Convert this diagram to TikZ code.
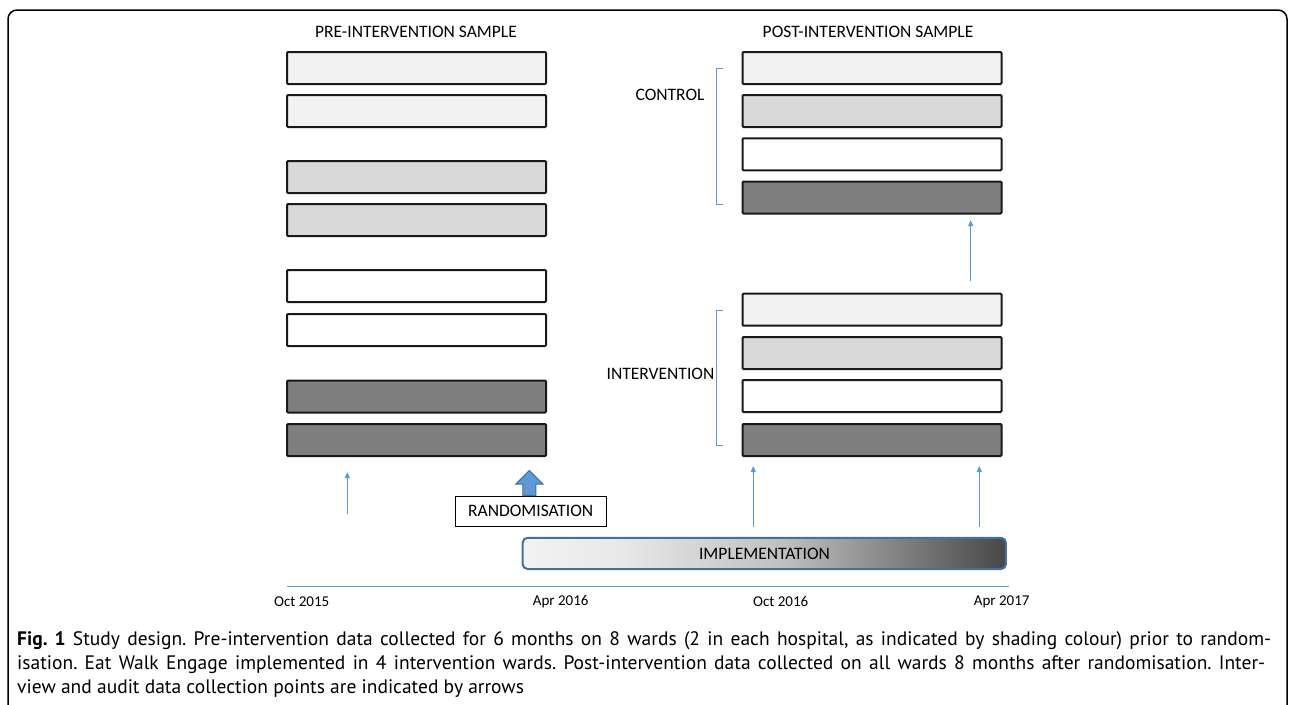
\documentclass[tikz,border=0pt]{standalone}
\usepackage{fontspec}
\setmainfont{Carlito}
\newfontfamily\capfont{PT Sans}
\usetikzlibrary{arrows.meta,shapes.arrows}
\definecolor{light}{HTML}{F2F2F2}
\definecolor{mid}{HTML}{D9D9D9}
\definecolor{dark}{HTML}{7F7F7F}
\definecolor{arrowblue}{HTML}{5B9BD5}
\definecolor{edgeblue}{HTML}{41719C}
\pgfdeclarehorizontalshading{impl}{100bp}{color(0bp)=(light); color(25bp)=(light); color(35bp)=(black!9); color(52bp)=(black!25); color(75bp)=(black!72); color(100bp)=(black!72)}
\tikzset{
  ward/.style={draw=black!90, line width=2pt, minimum width=259pt, minimum height=32pt, inner sep=0pt, rounded corners=1pt},
  title/.style={font=\fontsize{17.5}{20}\selectfont, inner sep=0pt},
  datelbl/.style={font=\fontsize{15}{18}\selectfont, inner sep=0pt},
  thinarrow/.style={draw=arrowblue, line width=1pt, -{Triangle[length=6pt,width=5pt]}},
  bracket/.style={draw=arrowblue, line width=1pt},
  caption/.style={font=\capfont\fontsize{19.5}{22}\selectfont\frenchspacing, inner sep=0pt, anchor=west}
}
\begin{document}
\begin{tikzpicture}[x=1pt,y=-1pt]
\useasboundingbox (0,0) rectangle (1292,704);
% frame
\draw[line width=1.5pt, rounded corners=9pt] (8,710) -- (8,10) -- (1287,10) -- (1287,710);

% titles
\node[title] (pretitle) at (416,32) {PRE-INTERVENTION SAMPLE};
\node[title] (posttitle) at (868,32) {POST-INTERVENTION SAMPLE};

% pre-intervention wards
\node[ward, fill=light] (p1) at (416.5,68) {};
\node[ward, fill=light] (p2) at (416.5,111) {};
\node[ward, fill=mid]   (p3) at (416.5,177) {};
\node[ward, fill=mid]   (p4) at (416.5,220) {};
\node[ward, fill=white] (p5) at (416.5,286) {};
\node[ward, fill=white] (p6) at (416.5,330) {};
\node[ward, fill=dark]  (p7) at (416.5,396.5) {};
\node[ward, fill=dark]  (p8) at (416.5,440) {};

% post-intervention: control
\node[ward, fill=light] (c1) at (872,68) {};
\node[ward, fill=mid]   (c2) at (872,111) {};
\node[ward, fill=white] (c3) at (872,154.3) {};
\node[ward, fill=dark]  (c4) at (872,197.5) {};
% post-intervention: intervention
\node[ward, fill=light] (i1) at (872,309.7) {};
\node[ward, fill=mid]   (i2) at (872,353) {};
\node[ward, fill=white] (i3) at (872,396) {};
\node[ward, fill=dark]  (i4) at (872,440) {};

% group labels and brackets
\node[title] (ctrl) at (670,95) {CONTROL};
\node[title, anchor=east] (intv) at (714.5,373.5) {INTERVENTION};
\draw[bracket] (722.5,68.3) -- (716,68.3) -- (716,204.3) -- (722.5,204.3);
\draw[bracket] (722.5,310) -- (716,310) -- (716,445.7) -- (722.5,445.7);

% data collection arrows
\coordinate (a1s) at (347.3,514);   \coordinate (a1e) at (347.3,472);
\coordinate (a2s) at (753.3,527);   \coordinate (a2e) at (753.3,466);
\coordinate (a3s) at (979.3,527);   \coordinate (a3e) at (979.3,466);
\coordinate (a4s) at (970.7,281);   \coordinate (a4e) at (970.7,220);
\draw[thinarrow] (a1s) -- (a1e);
\draw[thinarrow] (a2s) -- (a2e);
\draw[thinarrow] (a3s) -- (a3e);
\draw[thinarrow] (a4s) -- (a4e);

% randomisation
\node[draw=black, line width=0.9pt, minimum width=150.7pt, minimum height=30pt, inner sep=0pt,
      font=\fontsize{17.5}{20}\selectfont] (rand) at (530.7,511) {RANDOMISATION};
\draw[fill=arrowblue, draw=edgeblue, line width=1pt, line join=miter]
  ([xshift=-6.5pt]rand.north -| 529.3,0) -- (522.8,484) -- (515.8,484) -- (529.3,470.5)
  -- (542.8,484) -- (535.8,484) -- ([xshift=6.5pt]rand.north -| 529.3,0) -- cycle;

% implementation
\node[shading=impl, draw=edgeblue, line width=2pt, rounded corners=5pt,
      minimum width=483.3pt, minimum height=31.3pt, inner sep=0pt] (impl) at (764.3,553.4) {};
\node[title] (impltext) at (764.5,553.4) {IMPLEMENTATION};

% timeline
\coordinate (tls) at (286.7,586);
\coordinate (tle) at (1009,586);
\draw[draw=arrowblue, line width=1pt] (tls) -- (tle);
\node[datelbl] (d1) at (301.7,601.7) {Oct 2015};
\node[datelbl] (d2) at (560.7,601.7) {Apr 2016};
\node[datelbl] (d3) at (780.7,601.7) {Oct 2016};
\node[datelbl] (d4) at (1001.7,601.7) {Apr 2017};

% caption
\node[caption] (cap1) at (17,641) {\makebox[1254pt][s]{\bfseries Fig. 1\mdseries\ Study design. Pre-intervention data collected for 6 months on 8 wards (2 in each hospital, as indicated by shading colour) prior to random-}};
\node[caption] (cap2) at (17,665) {\makebox[1248pt][s]{isation. Eat Walk Engage implemented in 4 intervention wards. Post-intervention data collected on all wards 8 months after randomisation. Inter-}};
\node[caption] (cap3) at (17,689) {view and audit data collection points are indicated by arrows};
\end{tikzpicture}
\end{document}
